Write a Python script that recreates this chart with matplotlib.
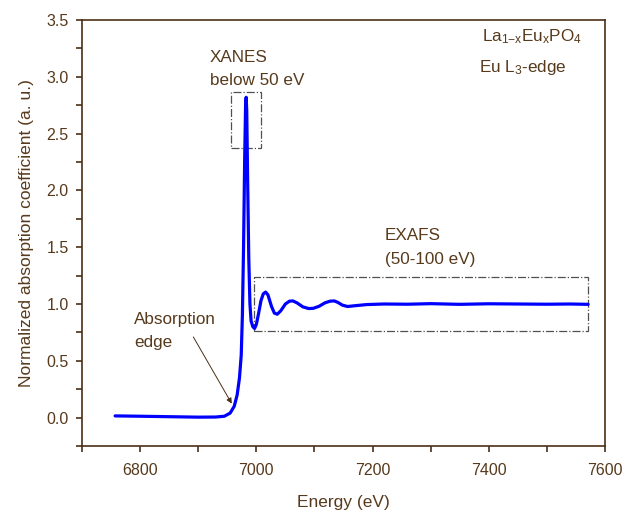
import matplotlib
matplotlib.use("Agg")
import matplotlib.pyplot as plt
from matplotlib.patches import Rectangle
from matplotlib.ticker import MultipleLocator

plt.rcParams['font.family'] = ['Liberation Sans', 'DejaVu Sans']
plt.rcParams['mathtext.fontset'] = 'custom'
plt.rcParams['mathtext.rm'] = 'Liberation Sans'
plt.rcParams['mathtext.default'] = 'regular'

# Eu L3-edge XANES/EXAFS spectrum
energy = [6757, 6800, 6850, 6900, 6930, 6945, 6955, 6962, 6967, 6971, 6974, 6976,
          6978, 6980, 6981.5, 6982.5, 6983.5, 6985, 6987, 6989, 6991, 6994, 6997,
          7000, 7004, 7008, 7012, 7016, 7020, 7026, 7031, 7036, 7042, 7050, 7057,
          7063, 7070, 7080, 7090, 7098, 7108, 7118, 7127, 7134, 7140, 7148, 7157,
          7170, 7190, 7220, 7260, 7300, 7350, 7400, 7450, 7500, 7540, 7571]
mu = [0.015, 0.012, 0.008, 0.004, 0.005, 0.012, 0.04, 0.1, 0.2, 0.35, 0.55, 0.9,
      1.5, 2.3, 2.75, 2.82, 2.7, 2.1, 1.4, 1.0, 0.85, 0.8, 0.785,
      0.82, 0.92, 1.03, 1.09, 1.105, 1.08, 0.98, 0.92, 0.91, 0.94, 1.0, 1.025,
      1.027, 1.01, 0.975, 0.96, 0.962, 0.98, 1.01, 1.025, 1.027, 1.015, 0.99, 0.978,
      0.985, 0.995, 1.0, 0.998, 1.003, 0.997, 1.002, 1.0, 0.998, 1.0, 0.997]

xanes_box = (6956, 7008, 2.37, 2.87)
exafs_box = (6996, 7571, 0.76, 1.24)

TXT = '#573a1c'
AX = '#4a3018'

fig = plt.figure(figsize=(6.23, 5.13), dpi=100)
ax = fig.add_axes([82/623, 1-446/513, (605-82)/623, (446-20)/513])

ax.plot(energy, mu, color='#0000ff', lw=2.3, solid_capstyle='round',
        solid_joinstyle='round')

for (x0, x1, y0, y1) in (xanes_box, exafs_box):
    ax.add_patch(Rectangle((x0, y0), x1 - x0, y1 - y0, fill=False,
                           ec='#505050', lw=0.9, ls='-.'))

ax.set_xlim(6700, 7600)
ax.set_ylim(-0.25, 3.5)
ax.xaxis.set_major_locator(MultipleLocator(200))
ax.xaxis.set_minor_locator(MultipleLocator(100))
ax.yaxis.set_major_locator(MultipleLocator(0.5))
ax.yaxis.set_minor_locator(MultipleLocator(0.25))
ax.set_yticks([0.0, 0.5, 1.0, 1.5, 2.0, 2.5, 3.0, 3.5])
ax.set_yticklabels(['0.0', '0.5', '1.0', '1.5', '2.0', '2.5', '3.0', '3.5'])

for s in ax.spines.values():
    s.set_color(AX)
    s.set_linewidth(1.2)
ax.tick_params(which='both', direction='out', color=AX, width=1.2,
               labelcolor=TXT, labelsize=11.5, top=False, right=False)
ax.tick_params(which='major', length=4.5)
ax.tick_params(which='minor', length=4.5)
ax.tick_params(axis='x', which='major', pad=8)
ax.tick_params(axis='y', which='major', pad=5)

ax.set_xlabel('Energy (eV)', fontsize=12.5, color=TXT, labelpad=12)
ax.set_ylabel('Normalized absorption coefficient (a. u.)', fontsize=12.5, color=TXT, labelpad=9)

fs = 12.3
ax.text(6920, 3.13, 'XANES', fontsize=fs, color=TXT, va='baseline')
ax.text(6920, 2.93, 'below 50 eV', fontsize=fs, color=TXT, va='baseline')
ax.text(7221, 1.56, 'EXAFS', fontsize=fs, color=TXT, va='baseline')
ax.text(7221, 1.355, '(50-100 eV)', fontsize=fs, color=TXT, va='baseline')
ax.text(6790, 0.822, 'Absorption', fontsize=fs, color=TXT, va='baseline')
ax.text(6790, 0.622, 'edge', fontsize=fs, color=TXT, va='baseline')
ax.text(7389, 3.31, r'La$_{1\mathrm{-}x}$Eu$_{x}$PO$_{4}$', fontsize=fs, color=TXT, va='baseline')
ax.text(7384, 3.045, r'Eu L$_{3}$-edge', fontsize=fs, color=TXT, va='baseline')

ax.annotate('', xy=(6957.7, 0.123), xytext=(6891.6, 0.71),
            arrowprops=dict(arrowstyle='-|>', color=AX, lw=0.7,
                            mutation_scale=8, shrinkA=0, shrinkB=0))

fig.savefig('out.png', dpi=100)
